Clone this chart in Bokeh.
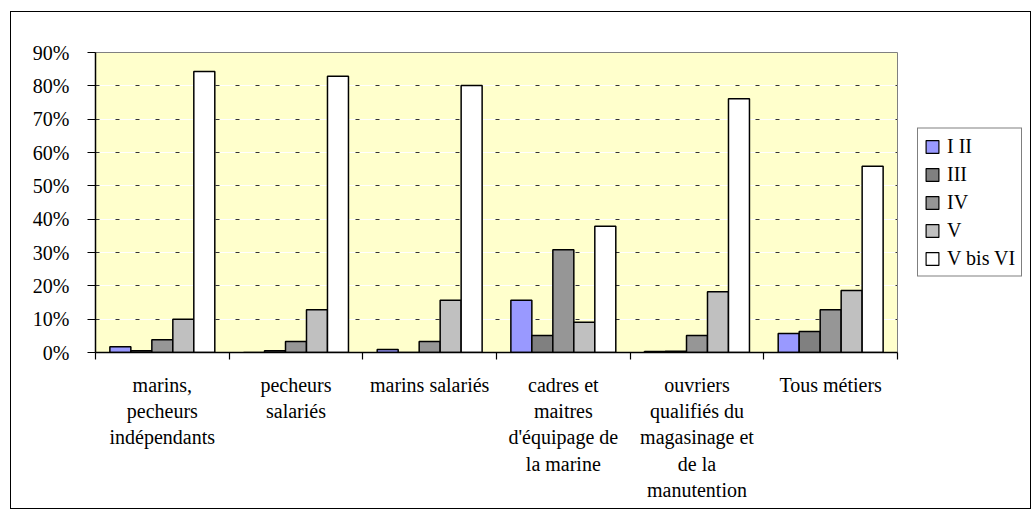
from bokeh.plotting import figure
from bokeh.layouts import row
from bokeh.models import (ColumnDataSource, FixedTicker, Range1d, Legend, LegendItem,
                          PrintfTickFormatter, Grid)
from bokeh.transform import dodge
from bokeh.embed import file_html
from bokeh.resources import INLINE

categories = ["marins,\npecheurs\nindépendants", "pecheurs\nsalariés", "marins salariés",
              "cadres et\nmaitres\nd'équipage de\nla marine",
              "ouvriers\nqualifiés du\nmagasinage et\nde la\nmanutention", "Tous métiers"]
series_names = ["I II", "III", "IV", "V", "V bis VI"]
s_I_II = [1.7, 0.0, 0.9, 15.7, 0.3, 5.7]
s_III = [0.5, 0.5, 0.0, 5.1, 0.4, 6.3]
s_IV = [3.8, 3.3, 3.3, 30.8, 5.1, 12.8]
s_V = [10.0, 12.8, 15.7, 9.1, 18.2, 18.6]
s_VbisVI = [84.3, 82.9, 80.1, 37.9, 76.1, 55.9]
y_ticks = [0, 10, 20, 30, 40, 50, 60, 70, 80, 90]

colors = ["#9999FF", "#808080", "#969696", "#C0C0C0", "#FFFFFF"]
series = [s_I_II, s_III, s_IV, s_V, s_VbisVI]
keys = ["a", "b", "c", "d", "e"]

FONT = "Liberation Serif"
n = len(categories)
data = {"x": [i + 0.5 for i in range(n)]}
for k, s in zip(keys, series):
    data[k] = s
src = ColumnDataSource(data)

p = figure(frame_width=802, frame_height=300, output_backend="svg", toolbar_location=None,
           x_range=Range1d(0, n), y_range=Range1d(0, 90),
           min_border_left=84, min_border_right=20, min_border_top=40, min_border_bottom=156)
p.background_fill_color = "#FFFFCC"
p.border_fill_color = "white"
p.outline_line_color = "#808080"
p.outline_line_width = 1

bw = 0.157
for i, (k, c) in enumerate(zip(keys, colors)):
    p.vbar(x=dodge("x", (i - 2) * bw, range=p.x_range), top=k, width=bw, source=src,
           fill_color=c, line_color="black", line_width=1.5)

# grid
p.xgrid.visible = False
p.ygrid.ticker = FixedTicker(ticks=y_ticks[1:-1])
p.ygrid.grid_line_color = "white"
p.ygrid.grid_line_width = 1
g2 = Grid(dimension=1, ticker=FixedTicker(ticks=y_ticks[1:-1]), grid_line_color="#333333",
          grid_line_dash="4 16", grid_line_width=1)
p.add_layout(g2)

# y axis
ya = p.yaxis[0]
ya.ticker = FixedTicker(ticks=y_ticks)
ya.formatter = PrintfTickFormatter(format="%d%%")
ya.major_label_text_font = FONT
ya.major_label_text_font_size = "20px"
ya.major_label_text_color = "black"
ya.major_tick_out = 8
ya.major_tick_in = 0
ya.minor_tick_line_color = None
ya.major_label_standoff = 18
ya.axis_line_color = "black"
ya.axis_line_width = 1.5
ya.major_tick_line_width = 1.2

# x axis
xa = p.xaxis[0]
xa.ticker = FixedTicker(ticks=[i + 0.5 for i in range(n)], minor_ticks=list(range(n + 1)))
xa.major_label_overrides = {i + 0.5: c for i, c in enumerate(categories)}
xa.major_tick_line_color = None
xa.major_tick_out = 0
xa.major_tick_in = 0
xa.minor_tick_out = 7
xa.minor_tick_in = 0
xa.minor_tick_line_color = "black"
xa.minor_tick_line_width = 1.2
xa.major_label_standoff = 14
xa.major_label_text_font = FONT
xa.major_label_text_font_size = "20px"
xa.major_label_text_color = "black"
xa.axis_line_color = "black"
xa.axis_line_width = 1.5

# legend panel (separate figure, no axes, same vertical frame as the chart)
lf = figure(width=113, frame_height=300, output_backend="svg", toolbar_location=None,
            x_axis_type=None, y_axis_type=None, x_range=Range1d(0, 1), y_range=Range1d(0, 1),
            min_border_left=0, min_border_right=0, min_border_top=40, min_border_bottom=156)
lf.outline_line_color = None
lf.border_fill_color = "white"
lf.background_fill_color = "white"
lf.xgrid.visible = False
lf.ygrid.visible = False
items = []
for k, c, name in zip(keys, colors, series_names):
    r = lf.vbar(x="x", top=k, width=bw, source=src, fill_color=c, line_color="black",
                line_width=1.2, visible=False)
    items.append(LegendItem(label=name, renderers=[r]))

legend = Legend(items=items, location="left")
legend.label_text_font = FONT
legend.label_text_font_size = "20px"
legend.label_text_color = "black"
legend.glyph_width = 16
legend.glyph_height = 16
legend.label_height = 20
legend.spacing = 5
legend.padding = 6
legend.margin = 0
legend.label_standoff = 7
legend.inactive_fill_alpha = 0
legend.border_line_color = "black"
legend.border_line_width = 1
legend.background_fill_color = "white"
legend.background_fill_alpha = 1
lf.add_layout(legend)

layout = row(p, lf, spacing=0,
             styles={"border": "1px solid black", "margin-left": "10px", "margin-top": "11px"})

open("out.html", "w").write(file_html(layout, INLINE))
